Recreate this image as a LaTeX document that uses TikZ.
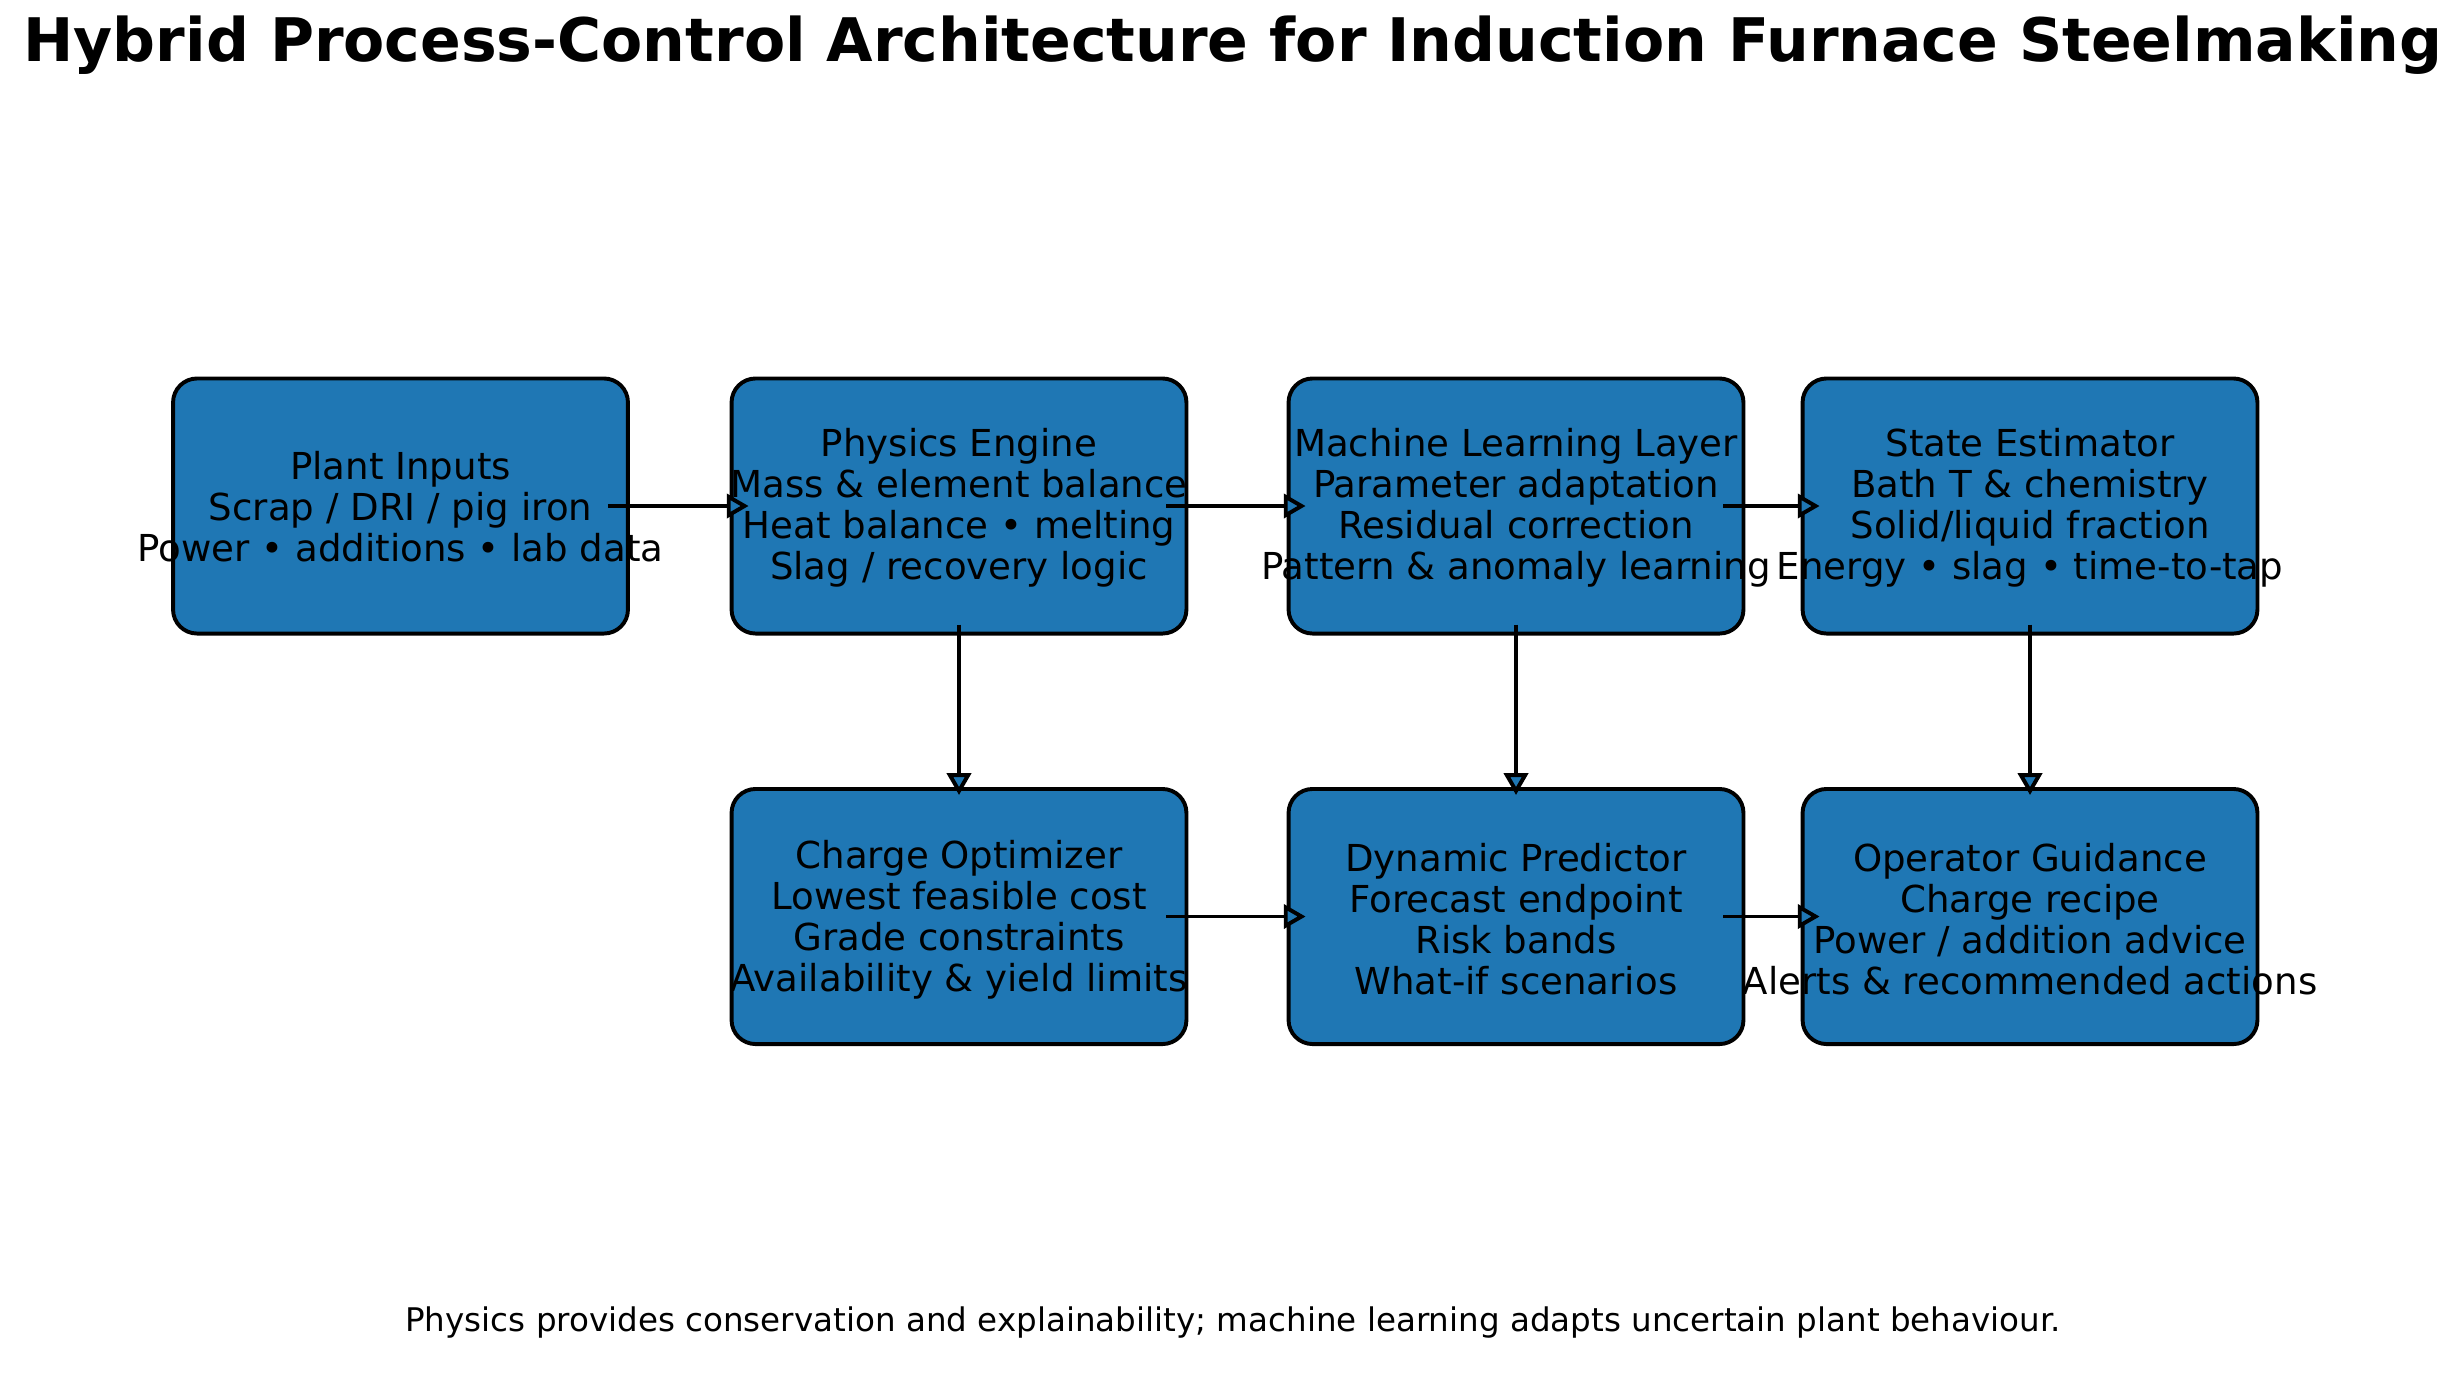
\documentclass[tikz,border=0pt]{standalone}
\usepackage{fontspec}
\setmainfont{DejaVu Sans}
\usetikzlibrary{arrows.meta,calc}
\definecolor{boxblue}{HTML}{1F77B4}
\begin{document}
\begin{tikzpicture}[x=0.4579pt,y=-0.4579pt,
  stage/.style={draw=black, line width=1.8pt, fill=boxblue, rounded corners=11pt,
    minimum width=208.3pt, minimum height=116.8pt, inner sep=0pt},
  stagetext/.style={align=center, font=\fontsize{17}{18.8}\selectfont, inner sep=0pt},
  flow/.style={draw=black, line width=1.8pt, -{Triangle[length=10pt,width=11pt,fill=boxblue,line join=miter]}},
]
\useasboundingbox (0,0) rectangle (2453,1384);

\node[font=\fontsize{27.5}{32}\selectfont\bfseries] (title) at (1233,45)
  {Hybrid Process-Control Architecture for Induction Furnace Steelmaking};

\node[stage] (pin)   at (400.5,506) {};
\node[stage] (phys)  at (959,506) {};
\node[stage] (ml)    at (1516,506) {};
\node[stage] (state) at (2030,506) {};
\node[stage] (opt)   at (959,916.5) {};
\node[stage] (pred)  at (1516,916.5) {};
\node[stage] (guide) at (2030,916.5) {};

\node[stagetext] (pin-t)   at ($(pin)+(0,1)$)   {Plant Inputs\\Scrap / DRI / pig iron\\Power • additions • lab data};
\node[stagetext] (phys-t)  at ($(phys)+(0,2)$)  {Physics Engine\\Mass \& element balance\\Heat balance • melting\\Slag / recovery logic};
\node[stagetext] (ml-t)    at ($(ml)+(0,2)$)    {Machine Learning Layer\\Parameter adaptation\\Residual correction\\Pattern \& anomaly learning};
\node[stagetext] (state-t) at ($(state)+(0,2)$) {State Estimator\\Bath T \& chemistry\\Solid/liquid fraction\\Energy • slag • time-to-tap};
\node[stagetext] (opt-t)   at ($(opt)+(0,3)$)   {Charge Optimizer\\Lowest feasible cost\\Grade constraints\\Availability \& yield limits};
\node[stagetext] (pred-t)  at ($(pred)+(0,3)$)  {Dynamic Predictor\\Forecast endpoint\\Risk bands\\What-if scenarios};
\node[stagetext] (guide-t) at ($(guide)+(0,3)$) {Operator Guidance\\Charge recipe\\Power / addition advice\\Alerts \& recommended actions};

\draw[flow] ($(pin.east)+(-22,0)$) -- ($(phys.west)+(19,0)$);
\draw[flow] ($(phys.east)+(-22,0)$) -- ($(ml.west)+(19,0)$);
\draw[flow] ($(ml.east)+(-22,0)$) -- ($(state.west)+(19,0)$);
\draw[flow] ($(opt.east)+(-22,0)$) -- ($(pred.west)+(19,0)$);
\draw[flow] ($(pred.east)+(-22,0)$) -- ($(guide.west)+(19,0)$);
\draw[flow] ($(phys.south)+(0,-11)$) -- ($(opt.north)+(0,8)$);
\draw[flow] ($(ml.south)+(0,-11)$) -- ($(pred.north)+(0,8)$);
\draw[flow] ($(state.south)+(0,-11)$) -- ($(guide.north)+(0,8)$);

\node[font=\fontsize{14.9}{17}\selectfont] (foot) at (1233,1322)
  {Physics provides conservation and explainability; machine learning adapts uncertain plant behaviour.};
\end{tikzpicture}
\end{document}
